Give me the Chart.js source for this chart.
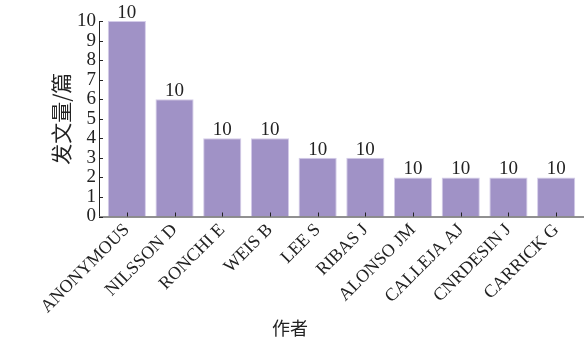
<!DOCTYPE html>
<html>
<head>
<meta charset="utf-8">
<script src="https://cdn.jsdelivr.net/npm/chart.js@4.4.1/dist/chart.umd.min.js"></script>
<style>
  html, body { margin: 0; padding: 0; background: #fff; }
  #wrap { width: 584px; height: 344px; }
</style>
</head>
<body>
<div id="wrap"><canvas id="authorChart"></canvas></div>
<script>
const authors = ['ANONYMOUS', 'NILSSON D', 'RONCHI E', 'WEIS B', 'LEE S',
                 'RIBAS J', 'ALONSO JM', 'CALLEJA AJ', 'CNRDESIN J', 'CARRICK G'];
const paperCounts = [10, 6, 4, 4, 3, 3, 2, 2, 2, 2];
// text printed above each bar
const barLabels = ['10', '10', '10', '10', '10', '10', '10', '10', '10', '10'];
const yTicks = [0, 1, 2, 3, 4, 5, 6, 7, 8, 9, 10];

const SERIF = '"Liberation Serif", "Times New Roman", serif';
const CJK = '"Noto Sans CJK SC", sans-serif';
const INK = '#222';

// axis lines, inward tick marks and the labels over the bars
const axisMarks = {
    id: 'axisMarks',
    afterDatasetsDraw(chart) {
        const ctx = chart.ctx;
        const area = chart.chartArea;
        const x = chart.scales.x;
        const y = chart.scales.y;
        const axisX = area.left - 4;
        const baseY = area.bottom;

        ctx.save();
        ctx.strokeStyle = INK;
        ctx.lineWidth = 1;
        ctx.beginPath();
        ctx.moveTo(axisX + 0.5, area.top);
        ctx.lineTo(axisX + 0.5, baseY);
        ctx.moveTo(axisX, baseY + 0.5);
        ctx.lineTo(chart.width, baseY + 0.5);
        yTicks.forEach(v => {
            const py = Math.round(y.getPixelForValue(v)) + 0.5;
            ctx.moveTo(axisX, py);
            ctx.lineTo(axisX + 4, py);
        });
        authors.forEach((a, i) => {
            const px = Math.round(x.getPixelForValue(i)) + 0.5;
            ctx.moveTo(px, baseY);
            ctx.lineTo(px, baseY - 4);
        });
        ctx.stroke();

        ctx.fillStyle = INK;
        ctx.font = '19px ' + SERIF;
        ctx.textAlign = 'center';
        ctx.textBaseline = 'alphabetic';
        chart.getDatasetMeta(0).data.forEach((bar, i) => {
            ctx.fillText(barLabels[i], bar.x, bar.y - 3);
        });
        ctx.restore();
    }
};

new Chart(document.getElementById('authorChart'), {
    type: 'bar',
    data: {
        labels: authors,
        datasets: [{
            data: paperCounts,
            backgroundColor: 'rgb(160, 146, 198)',
            borderColor: 'rgb(212, 204, 233)',
            borderWidth: 1,
            barPercentage: 0.8,
            categoryPercentage: 1.0
        }]
    },
    options: {
        responsive: true,
        maintainAspectRatio: false,
        animation: false,
        layout: { padding: { top: 21, right: 4, left: 0, bottom: 0 } },
        plugins: {
            legend: { display: false },
            tooltip: { enabled: false },
            title: {
                display: true,
                position: 'bottom',
                text: '作者',
                color: INK,
                font: { family: CJK, size: 18, weight: 'normal', lineHeight: 1.2 },
                padding: { top: 0, bottom: 5 }
            }
        },
        scales: {
            x: {
                grid: { display: false, drawTicks: false },
                border: { display: false },
                ticks: {
                    autoSkip: false,
                    minRotation: 45,
                    maxRotation: 45,
                    padding: 3,
                    color: INK,
                    font: { family: SERIF, size: 18 }
                },
                afterFit(scale) { scale.height = 344 - 26.6 - 216.5; }
            },
            y: {
                min: 0,
                max: 10,
                grid: { display: false, drawTicks: false },
                border: { display: false },
                ticks: {
                    autoSkip: false,
                    stepSize: 1,
                    padding: 7,
                    color: INK,
                    font: { family: SERIF, size: 19 }
                },
                title: {
                    display: true,
                    text: '发文量/篇',
                    color: INK,
                    font: { family: CJK, size: 21, lineHeight: 1.2 },
                    padding: { top: 48, bottom: 0 }
                },
                afterFit(scale) { scale.width = 103; }
            }
        }
    },
    plugins: [axisMarks]
});
</script>
</body>
</html>
